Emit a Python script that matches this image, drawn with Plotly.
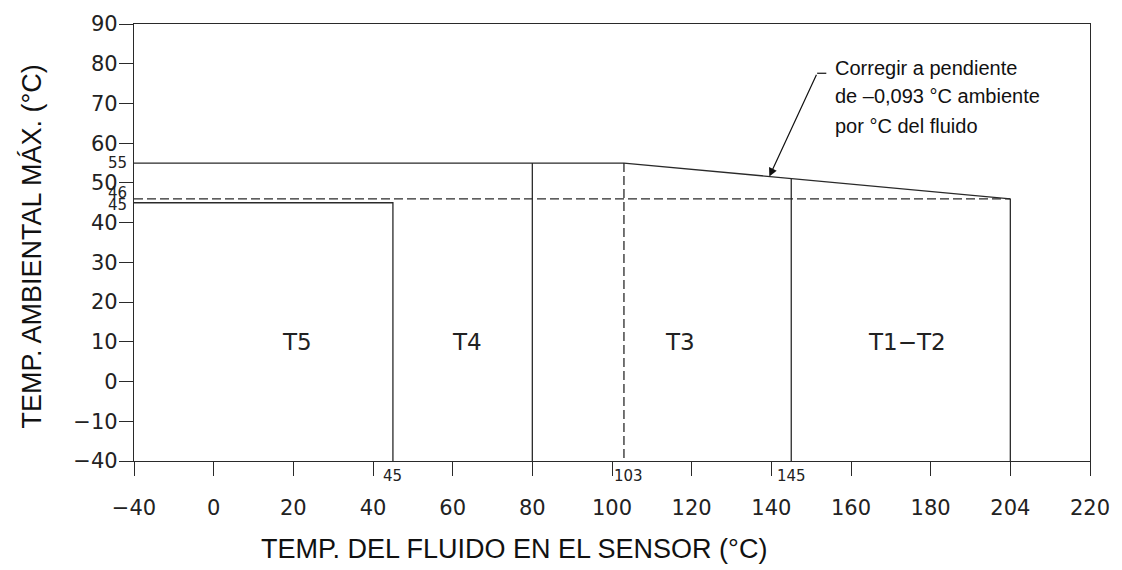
import numpy as np
import plotly.graph_objects as go

# ---- axis scales (real value -> drawing position; the chart uses broken axes) ----
fluid_axis_real = [-40, 0, 180, 204, 220]
fluid_axis_pos = [-20, 0, 180, 200, 220]
amb_axis_real = [-40, -10, 90]
amb_axis_pos = [-20, -10, 90]

fluid_tick_values = [-40, 0, 20, 40, 60, 80, 100, 120, 140, 160, 180, 204, 220]
amb_tick_values = [-40, -10, 0, 10, 20, 30, 40, 50, 60, 70, 80, 90]

# ---- data ----
t5_max_fluid = 45
t5_max_ambient = 45
t4_max_fluid = 80
derate_start_fluid = 103
t3_max_fluid = 145
t12_max_fluid = 204
max_ambient = 55
end_ambient = 46
min_fluid = -40
min_ambient = -40

class_names = ["T5", "T4", "T3", "T1\u2212T2"]
class_label_fluid = [21, 63.5, 117, 174]
class_label_ambient = [10, 10, 10, 10]


def fx(v):
    return np.interp(v, fluid_axis_real, fluid_axis_pos)


def fy(v):
    return np.interp(v, amb_axis_real, amb_axis_pos)


def fmt(v):
    return ("\u2212" + str(-v)) if v < 0 else str(v)


LC = "#2a2a2a"
LW = 1.3
DASH = "9px,4px"

fig = go.Figure()


def seg(xs, ys, dash="solid"):
    fig.add_trace(go.Scatter(x=fx(np.array(xs, float)), y=fy(np.array(ys, float)),
                             mode="lines", line=dict(color=LC, width=LW, dash=dash),
                             hoverinfo="skip", showlegend=False))


# limit line (55 then derated slope to 46 at 204)
lim_x = [min_fluid, derate_start_fluid, t12_max_fluid]
lim_y = [max_ambient, max_ambient, end_ambient]
lim_px = fx(np.array(lim_x, float))
lim_py = fy(np.array(lim_y, float))


def lim_at(xreal):
    return float(np.interp(fx(xreal), lim_px, lim_py))


seg(lim_x, lim_y)
# T5 box
seg([min_fluid, t5_max_fluid, t5_max_fluid], [t5_max_ambient, t5_max_ambient, min_ambient])
# verticals
seg([t4_max_fluid, t4_max_fluid], [max_ambient, min_ambient])
fig.add_trace(go.Scatter(x=[fx(t3_max_fluid)] * 2, y=[lim_at(t3_max_fluid), fy(min_ambient)],
                         mode="lines", line=dict(color=LC, width=LW),
                         hoverinfo="skip", showlegend=False))
seg([t12_max_fluid, t12_max_fluid], [end_ambient, min_ambient])
# dashed
seg([derate_start_fluid, derate_start_fluid], [max_ambient, min_ambient], dash=DASH)
seg([min_fluid, t12_max_fluid], [end_ambient, end_ambient], dash=DASH)

ann = []
FT = "DejaVu Sans"
FS = "Liberation Sans"
# class labels
for n, xv, yv in zip(class_names, class_label_fluid, class_label_ambient):
    ann.append(dict(x=xv, y=fy(yv), text=n, showarrow=False,
                    font=dict(family=FT, size=23, color="#222")))
# small value labels on y axis
for v, dy in [(max_ambient, 0), (end_ambient, -6), (t5_max_ambient, 2)]:
    ann.append(dict(x=fx(min_fluid), y=fy(v), xref="x", yref="y", text=str(v),
                    showarrow=False, xanchor="right", xshift=-5, yshift=-dy,
                    font=dict(family=FT, size=15, color="#222")))
# small value labels on x axis
for v, dx in [(t5_max_fluid, 0), (derate_start_fluid, 5), (t3_max_fluid, 0)]:
    ann.append(dict(x=fx(v), y=0, xref="x", yref="paper", text=str(v),
                    showarrow=False, yanchor="top", yshift=-4, xshift=dx,
                    font=dict(family=FT, size=15, color="#222")))

# note with arrow
tip_x = 139.5
ann.append(dict(x=tip_x, y=lim_at(tip_x), ax=151.5, ay=77.6, axref="x", ayref="y",
                xref="x", yref="y", text="", showarrow=True, arrowhead=2,
                arrowsize=1.4, arrowwidth=1.2, arrowcolor="#111"))
for txt, yv in [("Corregir a pendiente", 78.9), ("de \u20130,093 \u00b0C ambiente", 71.9),
                ("por \u00b0C del fluido", 64.3)]:
    ann.append(dict(x=155.6, y=yv, text=txt, showarrow=False, xanchor="left",
                    font=dict(family=FS, size=20, color="#111")))

# axis titles
ann.append(dict(x=-0.107, y=0.49, xref="paper", yref="paper", textangle=-90,
                xanchor="center", yanchor="middle",
                text="TEMP. AMBIENTAL M\u00c1X. (\u00b0C)", showarrow=False,
                font=dict(family=FS, size=27, color="#111")))
ann.append(dict(x=0.398, y=-0.202, xref="paper", yref="paper",
                xanchor="center", yanchor="middle",
                text="TEMP. DEL FLUIDO EN EL SENSOR (\u00b0C)", showarrow=False,
                font=dict(family=FS, size=27, color="#111")))

shapes = [dict(type="line", xref="x", yref="y", x0=151.5, x1=153.8, y0=77.6, y1=77.6,
               line=dict(color="#111", width=1.2))]

fig.update_layout(
    width=1122, height=570,
    margin=dict(l=134, r=29, t=20, b=109),
    plot_bgcolor="white", paper_bgcolor="white",
    annotations=ann, shapes=shapes, showlegend=False,
    xaxis=dict(range=[fx(min_fluid), 220], tickmode="array",
               tickvals=list(fx(np.array(fluid_tick_values, float))),
               ticktext=[fmt(v) for v in fluid_tick_values],
               ticks="outside", ticklen=14, tickwidth=1.2, tickcolor=LC,
               showline=True, linecolor=LC, linewidth=1.3, mirror=True,
               showgrid=False, zeroline=False, ticklabelstandoff=14,
               tickfont=dict(family=FT, size=21, color="#222")),
    yaxis=dict(range=[fy(min_ambient), 90], tickmode="array",
               tickvals=list(fy(np.array(amb_tick_values, float))),
               ticktext=[fmt(v) for v in amb_tick_values],
               ticks="outside", ticklen=14, tickwidth=1.2, tickcolor=LC,
               showline=True, linecolor=LC, linewidth=1.3, mirror=True,
               showgrid=False, zeroline=False, ticklabelstandoff=-3,
               tickfont=dict(family=FT, size=21, color="#222")),
)

fig.write_html("out.html", config={"displayModeBar": False},
               post_script="document.body.style.margin='0';document.body.style.padding='0';")
